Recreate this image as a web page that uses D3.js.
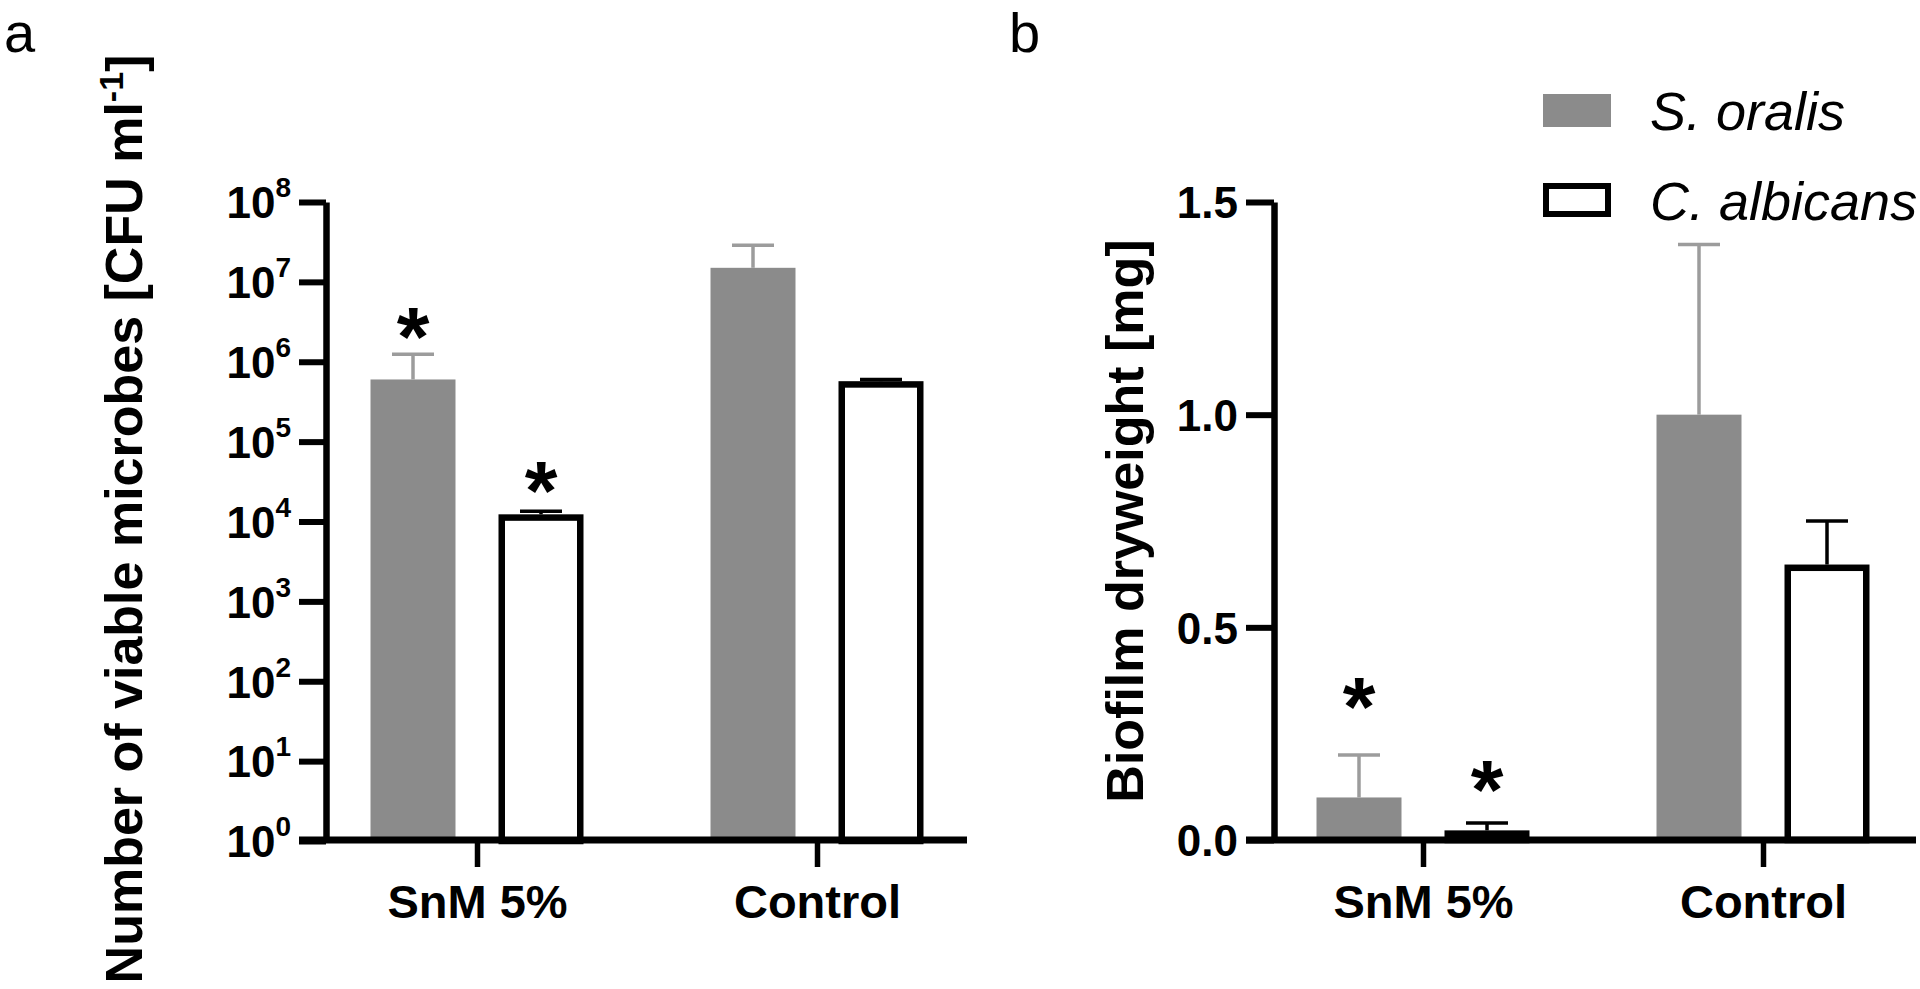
<!DOCTYPE html>
<html><head><meta charset="utf-8">
<script src="https://cdn.jsdelivr.net/npm/d3@7"></script>
<style>
html,body{margin:0;padding:0;background:#fff;}
svg{display:block;}
text{font-family:"Liberation Sans",Arial,sans-serif;}
</style>
</head><body>
<svg id="chart" width="1920" height="989"></svg>
<script>
// ---------------- DATA ----------------
const categories = ["SnM 5%", "Control"];
const seriesNames = ["S. oralis", "C. albicans"];

// Panel a: number of viable microbes [CFU ml-1] (log scale)
const cfuOralisMean   = [6.0e5, 1.5e7];
const cfuOralisSD     = [6.4e5, 1.38e7];
const cfuAlbicansMean = [1.12e4, 5.2e5];
const cfuAlbicansSD   = [2.2e3, 0.8e5];
const cfuTickExponents = [0, 1, 2, 3, 4, 5, 6, 7, 8];
const cfuStarOralis   = [3.4e6, null];   // level of "*" above bars
const cfuStarAlbicans = [4.0e4, null];

// Panel b: biofilm dryweight [mg]
const dryOralisMean   = [0.10, 1.00];
const dryOralisSD     = [0.10, 0.40];
const dryAlbicansMean = [0.015, 0.64];
const dryAlbicansSD   = [0.025, 0.11];
const dryTicks        = [0, 0.5, 1.0, 1.5];
const dryStarOralis   = [0.356, null];
const dryStarAlbicans = [0.16, null];

// ---------------- STYLE ----------------
const GRAY = "#8b8b8b", GRAY_ERR = "#9c9c9c", BLACK = "#000";
const BAR_W = 85, BOX_STROKE = 6.5, CAP_W = 42;
const svg = d3.select("#chart");

function drawPanel(o) {
  const g = svg.append("g");
  const y = o.y;
  const x = d3.scalePoint().domain(categories).range(o.catRange);
  const sub = d3.scaleBand().domain(seriesNames).range([-128, 128]);
  const subC = s => sub(s) + sub.bandwidth() / 2;
  const base = y.range()[0];

  const rows = [];
  categories.forEach((c, i) => {
    rows.push({c, s: seriesNames[0], m: o.oMean[i], sd: o.oSD[i], star: o.oStar[i]});
    rows.push({c, s: seriesNames[1], m: o.aMean[i], sd: o.aSD[i], star: o.aStar[i]});
  });

  // bars
  rows.forEach(d => {
    const cx = x(d.c) + subC(d.s);
    const yt = y(d.m);
    if (d.s === seriesNames[0]) {
      g.append("rect").attr("x", cx - BAR_W / 2).attr("width", BAR_W)
        .attr("y", yt).attr("height", base - yt).attr("fill", GRAY);
    } else {
      g.append("rect").attr("x", cx - BAR_W / 2 + BOX_STROKE / 2).attr("width", BAR_W - BOX_STROKE)
        .attr("y", yt).attr("height", base - yt).attr("fill", "#fff")
        .attr("stroke", BLACK).attr("stroke-width", BOX_STROKE);
    }
    // error bar
    const col = d.s === seriesNames[0] ? GRAY_ERR : BLACK;
    const yu = y(d.m + d.sd);
    const y0 = d.s === seriesNames[0] ? yt : yt - BOX_STROKE / 2;
    g.append("line").attr("x1", cx).attr("x2", cx).attr("y1", y0).attr("y2", yu)
      .attr("stroke", col).attr("stroke-width", 3.5);
    g.append("line").attr("x1", cx - CAP_W / 2).attr("x2", cx + CAP_W / 2).attr("y1", yu).attr("y2", yu)
      .attr("stroke", col).attr("stroke-width", 3.5);
    if (d.star != null) {
      g.append("text").attr("x", cx).attr("y", y(d.star) + 0.56 * 84)
        .attr("text-anchor", "middle").attr("font-size", 84).attr("font-weight", "bold")
        .text("*");
    }
  });

  // y axis
  const ya = g.append("g").attr("transform", `translate(${o.yAxisX},0)`)
    .call(d3.axisLeft(y).tickValues(o.ticks).tickSize(o.tickLen).tickSizeOuter(0).tickPadding(8));
  ya.select(".domain").attr("stroke-width", 6.5).attr("stroke", BLACK);
  ya.selectAll(".tick line").attr("stroke-width", 6).attr("stroke", BLACK);
  ya.selectAll(".tick text").attr("font-size", 44).attr("font-weight", "bold")
    .attr("fill", BLACK).attr("dy", "0.36em");
  if (o.logLabels) {
    ya.selectAll(".tick text").each(function(d) {
      const t = d3.select(this);
      t.text("10");
      t.append("tspan").attr("font-size", 28).attr("dy", "-0.75em").text(Math.round(Math.log10(d)));
    });
  } else {
    ya.selectAll(".tick text").text(d => d3.format(".1f")(d));
  }

  // x axis
  const xa = g.append("g").attr("transform", `translate(0,${o.xAxisY})`)
    .call(d3.axisBottom(x).tickSize(27).tickSizeOuter(0));
  xa.select(".domain").remove();
  xa.selectAll(".tick line").attr("stroke-width", 5.5).attr("stroke", BLACK);
  xa.selectAll(".tick text").attr("font-size", 47).attr("font-weight", "bold")
    .attr("fill", BLACK).attr("y", 78).attr("dy", 0);
  g.append("line").attr("x1", o.xAxisFrom).attr("x2", o.xAxisTo)
    .attr("y1", o.xAxisY).attr("y2", o.xAxisY).attr("stroke", BLACK).attr("stroke-width", 7);

  // y title
  const tt = g.append("text")
    .attr("transform", `translate(${o.titleX},${o.titleY}) rotate(-90)`)
    .attr("text-anchor", "middle").attr("font-size", 52).attr("font-weight", "bold");
  o.title.forEach(p => {
    const ts = tt.append("tspan").text(p.t);
    if (p.sup) ts.attr("font-size", 34).attr("dy", "-0.55em");
    if (p.after) ts.attr("dy", "0.37em");
  });

  // panel letter
  svg.append("text").attr("x", o.letterX).attr("y", 52).attr("font-size", 56).text(o.letter);
}

const yLog = d3.scaleLog().domain([1, 1e8]).range([841, 202]);
drawPanel({
  y: yLog, catRange: [477, 817], yAxisX: 326, tickLen: 27, xAxisY: 840,
  xAxisFrom: 299, xAxisTo: 967, ticks: cfuTickExponents.map(e => Math.pow(10, e)), logLabels: true,
  oMean: cfuOralisMean, oSD: cfuOralisSD, aMean: cfuAlbicansMean, aSD: cfuAlbicansSD,
  oStar: cfuStarOralis, aStar: cfuStarAlbicans,
  title: [{t: "Number of viable microbes [CFU ml"}, {t: "-1", sup: true}, {t: "]", after: true}],
  titleX: 142, titleY: 519, letter: "a", letterX: 4
});

const yLin = d3.scaleLinear().domain([0, 1.5]).range([840, 202]);
drawPanel({
  y: yLin, catRange: [1423, 1763], yAxisX: 1274, tickLen: 28, xAxisY: 840,
  xAxisFrom: 1246, xAxisTo: 1916, ticks: dryTicks, logLabels: false,
  oMean: dryOralisMean, oSD: dryOralisSD, aMean: dryAlbicansMean, aSD: dryAlbicansSD,
  oStar: dryStarOralis, aStar: dryStarAlbicans,
  title: [{t: "Biofilm dryweight [mg]"}],
  titleX: 1143, titleY: 521, letter: "b", letterX: 1009
});

// legend
const leg = svg.append("g");
seriesNames.forEach((s, i) => {
  const cy = 110.5 + i * 89.5;
  if (i === 0) {
    leg.append("rect").attr("x", 1543).attr("y", cy - 16.5).attr("width", 68).attr("height", 33).attr("fill", GRAY);
  } else {
    leg.append("rect").attr("x", 1546).attr("y", cy - 14).attr("width", 62).attr("height", 28)
      .attr("fill", "#fff").attr("stroke", BLACK).attr("stroke-width", 6);
  }
  leg.append("text").attr("x", 1650).attr("y", cy + 19.5).attr("font-size", 54)
    .attr("font-style", "italic").text(s);
});
</script>
</body></html>
